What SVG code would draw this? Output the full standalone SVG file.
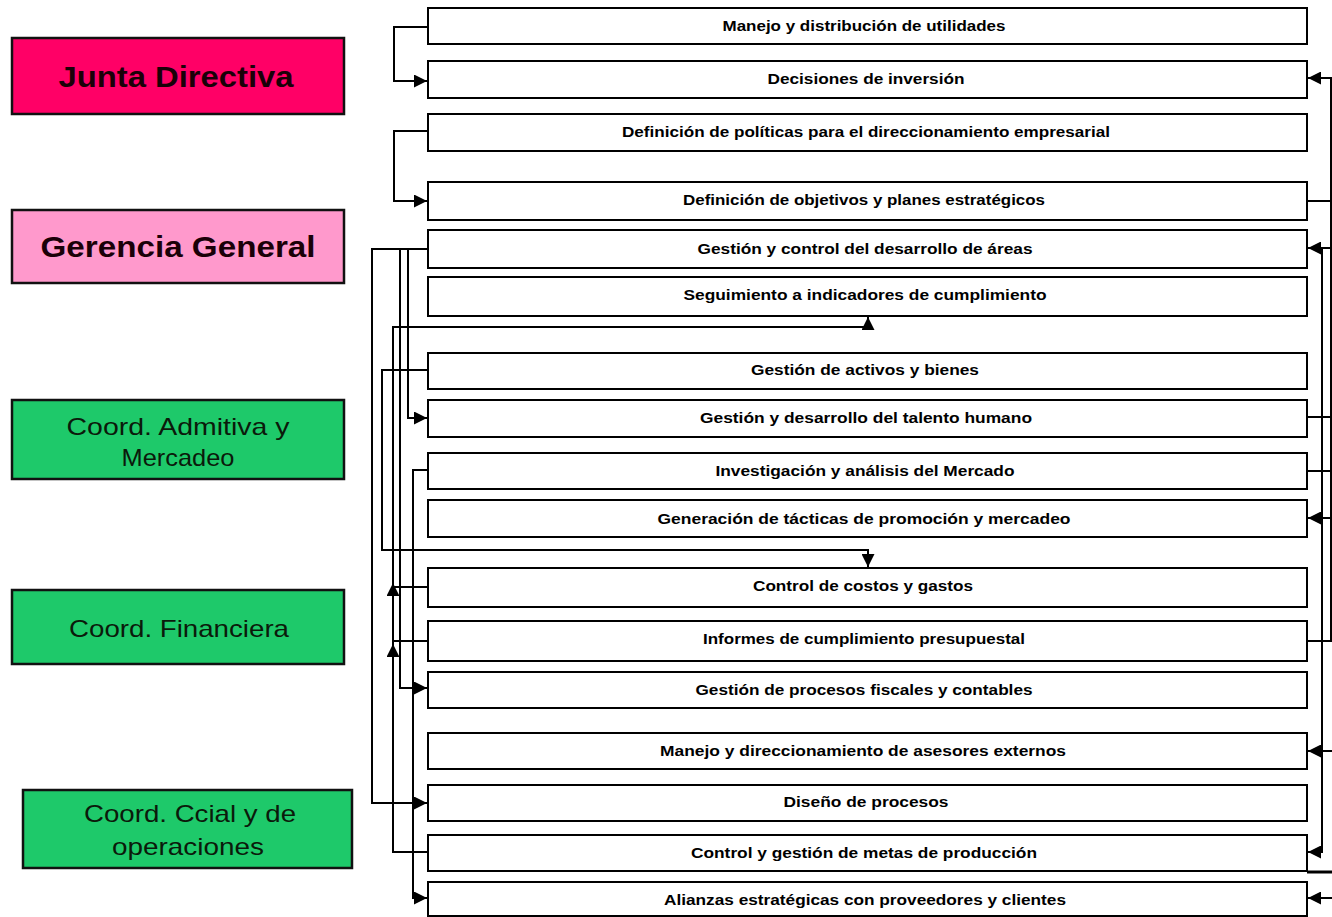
<svg xmlns="http://www.w3.org/2000/svg" width="1332" height="917" viewBox="0 0 1332 917">
  <defs>
    <marker id="arr" viewBox="0 0 10 10" refX="10" refY="5" markerWidth="14" markerHeight="13" markerUnits="userSpaceOnUse" orient="auto">
      <path d="M0,0 L10,5 L0,10 Z" fill="#000"/>
    </marker>
    <style>
      .lvl { stroke: #111; stroke-width: 2.5; }
      .lvl-t { font-family: "Liberation Sans", Arial, sans-serif; text-anchor: middle; }
      .big { font-size: 30px; font-weight: bold; fill: #1a0008; }
      .co { font-size: 24px; fill: #0b1a0b; }
      .task rect { fill: #fff; stroke: #000; stroke-width: 2; }
      .task text { font-family: "Liberation Sans", Arial, sans-serif; font-size: 15px; font-weight: bold; text-anchor: middle; fill: #000; }
      .wire { fill: none; stroke: #000; stroke-width: 2; }
      .wire .a { marker-end: url(#arr); }
    </style>
  </defs>

  <rect width="1332" height="917" fill="#fff"/>

  <!-- Organisational levels -->
  <g id="junta-directiva">
    <rect class="lvl" x="12" y="38" width="332" height="76" fill="#ff0066"/>
    <text class="lvl-t big" x="176" y="87" textLength="235" lengthAdjust="spacingAndGlyphs">Junta Directiva</text>
  </g>
  <g id="gerencia-general">
    <rect class="lvl" x="12" y="210" width="332" height="73" fill="#ff99cc"/>
    <text class="lvl-t big" x="178" y="257" textLength="275" lengthAdjust="spacingAndGlyphs">Gerencia General</text>
  </g>
  <g id="coord-admitiva">
    <rect class="lvl" x="12" y="400" width="332" height="79" fill="#1ec96a"/>
    <text class="lvl-t co" x="178" y="435" textLength="223" lengthAdjust="spacingAndGlyphs">Coord. Admitiva y</text>
    <text class="lvl-t co" x="178" y="466" textLength="113" lengthAdjust="spacingAndGlyphs">Mercadeo</text>
  </g>
  <g id="coord-financiera">
    <rect class="lvl" x="12" y="590" width="332" height="74" fill="#1ec96a"/>
    <text class="lvl-t co" x="179" y="637" textLength="220" lengthAdjust="spacingAndGlyphs">Coord. Financiera</text>
  </g>
  <g id="coord-ccial">
    <rect class="lvl" x="23" y="790" width="329" height="78" fill="#1ec96a"/>
    <text class="lvl-t co" x="190" y="822" textLength="212" lengthAdjust="spacingAndGlyphs">Coord. Ccial y de</text>
    <text class="lvl-t co" x="188" y="855" textLength="152" lengthAdjust="spacingAndGlyphs">operaciones</text>
  </g>

  <!-- Activities -->
  <g id="t01" class="task"><rect x="428" y="8" width="879" height="36"/><text x="864" y="31" textLength="283" lengthAdjust="spacingAndGlyphs">Manejo y distribución de utilidades</text></g>
  <g id="t02" class="task"><rect x="428" y="61" width="879" height="37"/><text x="866" y="84" textLength="197" lengthAdjust="spacingAndGlyphs">Decisiones de inversión</text></g>
  <g id="t03" class="task"><rect x="428" y="114" width="879" height="37"/><text x="866" y="137" textLength="488" lengthAdjust="spacingAndGlyphs">Definición de políticas para el direccionamiento empresarial</text></g>
  <g id="t04" class="task"><rect x="428" y="182" width="879" height="38"/><text x="864" y="205" textLength="362" lengthAdjust="spacingAndGlyphs">Definición de objetivos y planes estratégicos</text></g>
  <g id="t05" class="task"><rect x="428" y="230" width="879" height="38"/><text x="865" y="254" textLength="335" lengthAdjust="spacingAndGlyphs">Gestión y control del desarrollo de áreas</text></g>
  <g id="t06" class="task"><rect x="428" y="277" width="879" height="39"/><text x="865" y="300" textLength="363" lengthAdjust="spacingAndGlyphs">Seguimiento a indicadores de cumplimiento</text></g>
  <g id="t07" class="task"><rect x="428" y="353" width="879" height="36"/><text x="865" y="375" textLength="228" lengthAdjust="spacingAndGlyphs">Gestión de activos y bienes</text></g>
  <g id="t08" class="task"><rect x="428" y="400" width="879" height="37"/><text x="866" y="423" textLength="332" lengthAdjust="spacingAndGlyphs">Gestión y desarrollo del talento humano</text></g>
  <g id="t09" class="task"><rect x="428" y="453" width="879" height="36"/><text x="865" y="476" textLength="299" lengthAdjust="spacingAndGlyphs">Investigación y análisis del Mercado</text></g>
  <g id="t10" class="task"><rect x="428" y="500" width="879" height="37"/><text x="864" y="524" textLength="413" lengthAdjust="spacingAndGlyphs">Generación de tácticas de promoción y mercadeo</text></g>
  <g id="t11" class="task"><rect x="428" y="568" width="879" height="39"/><text x="863" y="591" textLength="220" lengthAdjust="spacingAndGlyphs">Control de costos y gastos</text></g>
  <g id="t12" class="task"><rect x="428" y="621" width="879" height="40"/><text x="864" y="644" textLength="322" lengthAdjust="spacingAndGlyphs">Informes de cumplimiento presupuestal</text></g>
  <g id="t13" class="task"><rect x="428" y="672" width="879" height="36"/><text x="864" y="695" textLength="337" lengthAdjust="spacingAndGlyphs">Gestión de procesos fiscales y contables</text></g>
  <g id="t14" class="task"><rect x="428" y="733" width="879" height="36"/><text x="863" y="756" textLength="406" lengthAdjust="spacingAndGlyphs">Manejo y direccionamiento de asesores externos</text></g>
  <g id="t15" class="task"><rect x="428" y="785" width="879" height="36"/><text x="866" y="807" textLength="165" lengthAdjust="spacingAndGlyphs">Diseño de procesos</text></g>
  <g id="t16" class="task"><rect x="428" y="835" width="879" height="36"/><text x="864" y="858" textLength="346" lengthAdjust="spacingAndGlyphs">Control y gestión de metas de producción</text></g>
  <g id="t17" class="task"><rect x="428" y="882" width="879" height="34"/><text x="865" y="905" textLength="402" lengthAdjust="spacingAndGlyphs">Alianzas estratégicas con proveedores y clientes</text></g>

  <!-- Connectors -->
  <g id="connectors" class="wire">
    <!-- left side -->
    <path class="a" d="M428,27 H394 V81 H427"/>
    <path class="a" d="M428,131 H394 V201 H427"/>
    <path class="a" d="M428,249 H372 V803 H427"/>
    <path class="a" d="M428,249 H400 V688 H427"/>
    <path class="a" d="M428,249 H408 V418 H427"/>
    <path class="a" d="M428,370 H382 V550 H868 V567"/>
    <path class="a" d="M428,852 H393 V327 H868 V317"/>
    <path d="M428,587 H393"/>
    <path d="M428,641 H393"/>
    <path class="a" d="M393,605 V583"/>
    <path class="a" d="M393,662 V644"/>
    <path class="a" d="M428,470 H413 V898 H427"/>
    <!-- right side -->
    <path class="a" d="M1307,201 H1331 V78 H1308"/>
    <path d="M1307,417 H1332"/>
    <path d="M1307,471 H1332"/>
    <path d="M1307,641 H1331 V201"/>
    <path class="a" d="M1332,518 H1308"/>
    <path class="a" d="M1332,248 H1308"/>
    <path class="a" d="M1322,248 V852 H1308"/>
    <path class="a" d="M1332,751 H1308"/>
    <path d="M1307,872 H1332" stroke-width="3"/>
    <path class="a" d="M1332,898 H1308"/>
  </g>
</svg>
